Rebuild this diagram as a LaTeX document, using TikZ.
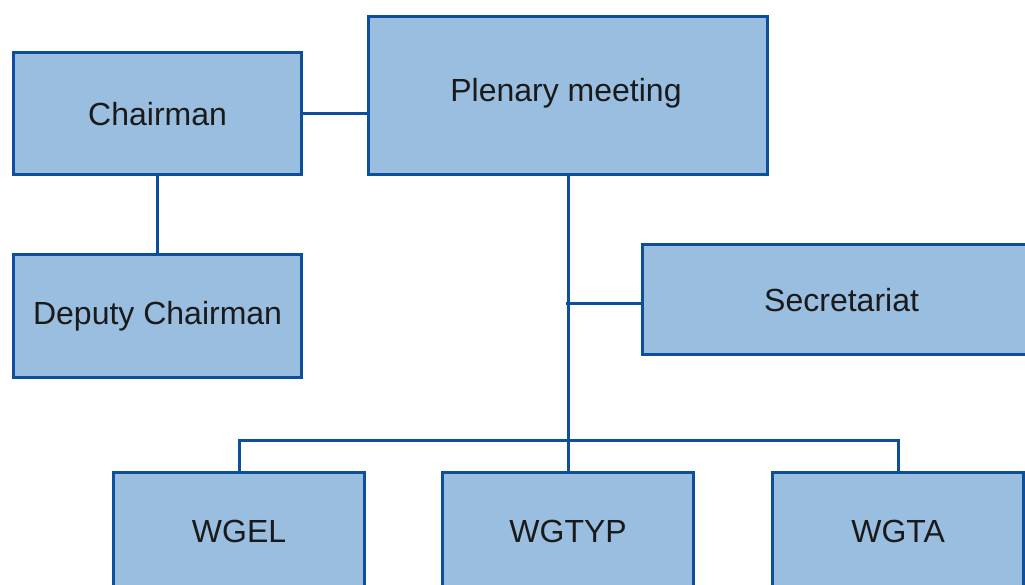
\documentclass[tikz,border=0pt]{standalone}
\usepackage{fontspec}
\setmainfont{Liberation Sans}
\definecolor{boxfill}{HTML}{99BEE0}
\definecolor{boxline}{HTML}{0E4F9C}
\definecolor{txt}{HTML}{1A1A1A}
\begin{document}
\begin{tikzpicture}[x=1pt,y=-1pt,
  orgbox/.style={draw=boxline, fill=boxfill, line width=3.2pt, text=txt,
    font=\fontsize{32}{37}\selectfont, inner sep=0pt, anchor=north west},
  link/.style={draw=boxline, line width=3pt}]
\useasboundingbox (0,0) rectangle (1025,584);
\clip (0,0) rectangle (1025,584);
\node[orgbox, minimum width=288pt, minimum height=122pt] (chair) at (12,51) {Chairman};
\node[orgbox, minimum width=399pt, minimum height=158pt] (plen) at (367,15) {};
\node[font=\fontsize{32}{37}\selectfont, text=txt] (plentxt) at (566,93) {Plenary meeting};
\node[orgbox, minimum width=288pt, minimum height=123pt] (dep) at (12,253) {Deputy Chairman};
\node[orgbox, minimum width=398pt, minimum height=110pt] (sec) at (641,243) {Secretariat};
\node[orgbox, minimum width=251pt, minimum height=118pt] (wgel) at (112,471) {WGEL};
\node[orgbox, minimum width=251pt, minimum height=118pt] (wgtyp) at (441,471) {WGTYP};
\node[orgbox, minimum width=251pt, minimum height=118pt] (wgta) at (771,471) {WGTA};
\coordinate (bar) at (566,440);
\coordinate (secj) at (566,303);
\draw[link] (chair.east) -- (chair.east -| plen.west);
\draw[link] (chair.south) -- (dep.north);
\draw[link] (plen.south) -- (wgtyp.north);
\draw[link] (secj) -- (secj -| sec.west);
\draw[link] (wgel.north) -- (wgel.north |- bar) -- (wgta.north |- bar) -- (wgta.north);
\end{tikzpicture}
\end{document}
